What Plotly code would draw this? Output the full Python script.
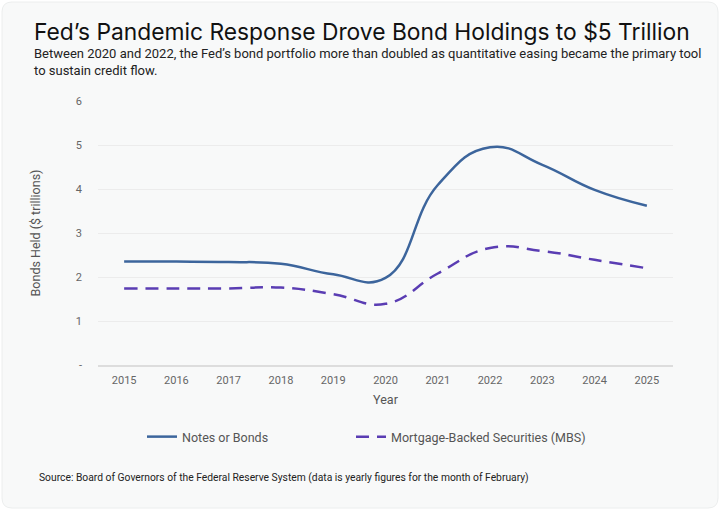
import plotly.graph_objects as go

years = [2015, 2016, 2017, 2018, 2019, 2020, 2021, 2022, 2023, 2024, 2025]
notes_bonds = [2.35, 2.35, 2.34, 2.30, 2.06, 1.98, 4.09, 4.95, 4.55, 3.98, 3.62]
mbs = [1.74, 1.74, 1.74, 1.76, 1.61, 1.39, 2.08, 2.66, 2.59, 2.39, 2.20]
y_tickvals = [0, 1, 2, 3, 4, 5, 6]
y_ticktext = ["-", "1", "2", "3", "4", "5", "6"]

W, H = 720, 510
L, R, T, B = 98, 47, 101, 145
PW, PH = W - L - R, H - T - B

def px(x):
    return (x - L) / PW

def py(y):
    return (H - B - y) / PH

TFONT = "Inter"
FONT = "Roboto"
legend_font = dict(family=FONT, size=12.5, color="#555555")

fig = go.Figure()
fig.add_trace(go.Scatter(
    x=years, y=notes_bonds, mode="lines", name="Notes or Bonds", legend="legend",
    line=dict(color="#3c659c", width=2.5, shape="spline", smoothing=1.3),
))
fig.add_trace(go.Scatter(
    x=years, y=mbs, mode="lines", name="Mortgage-Backed Securities (MBS)", legend="legend2",
    line=dict(color="#5a3db3", width=2.5, shape="spline", smoothing=1.3, dash="13px,8px"),
))

# rounded card background
x0, x1, y0, y1, r = 2, 718, 2, 508, 10
path = (f"M {px(x0+r)},{py(y0)} L {px(x1-r)},{py(y0)} "
        f"Q {px(x1)},{py(y0)} {px(x1)},{py(y0+r)} L {px(x1)},{py(y1-r)} "
        f"Q {px(x1)},{py(y1)} {px(x1-r)},{py(y1)} L {px(x0+r)},{py(y1)} "
        f"Q {px(x0)},{py(y1)} {px(x0)},{py(y1-r)} L {px(x0)},{py(y0+r)} "
        f"Q {px(x0)},{py(y0)} {px(x0+r)},{py(y0)} Z")
fig.add_shape(type="path", path=path, xref="paper", yref="paper",
              fillcolor="#f8f9f9", line=dict(color="#eceeee", width=1), layer="below")

fig.add_annotation(text="Fed’s Pandemic Response Drove Bond Holdings to $5 Trillion",
                   xref="paper", yref="paper", x=px(32), y=py(32), xanchor="left", yanchor="middle",
                   showarrow=False, font=dict(family=TFONT, size=22.8, color="#111111"))
fig.add_annotation(text="Between 2020 and 2022, the Fed’s bond portfolio more than doubled as quantitative easing became the primary tool<br>to sustain credit flow.",
                   xref="paper", yref="paper", x=px(32), y=py(62), xanchor="left", yanchor="middle",
                   align="left", showarrow=False,
                   font=dict(family=FONT, size=13, color="#222222"))
fig.add_annotation(text="Source: Board of Governors of the Federal Reserve System (data is yearly figures for the month of February)",
                   xref="paper", yref="paper", x=px(37), y=py(477), xanchor="left", yanchor="middle",
                   showarrow=False, font=dict(family=FONT, size=10.3, color="#222222"))

fig.update_layout(
    width=W, height=H,
    margin=dict(l=L, r=R, t=T, b=B),
    paper_bgcolor="white", plot_bgcolor="rgba(0,0,0,0)",
    font=dict(family=FONT, color="#666666"),
    showlegend=True,
    legend=dict(orientation="h", x=px(142), y=py(437), xanchor="left", yanchor="middle",
                font=legend_font, bgcolor="rgba(0,0,0,0)"),
    legend2=dict(orientation="h", x=px(351), y=py(437), xanchor="left", yanchor="middle",
                 font=legend_font, bgcolor="rgba(0,0,0,0)"),
    xaxis=dict(range=[2014.5, 2025.5], tickvals=years, ticktext=[str(y) for y in years],
               showgrid=False, zeroline=False, showline=True, linecolor="#dddddd", linewidth=1.5,
               ticks="", tickfont=dict(size=11, color="#666666"), ticklabelstandoff=4,
               title=dict(text="Year", font=dict(size=12.5, color="#555555"), standoff=9)),
    yaxis=dict(range=[0, 6], tickvals=y_tickvals, ticktext=y_ticktext,
               showgrid=True, gridcolor="#ececec", gridwidth=1, zeroline=False,
               ticks="", tickfont=dict(size=11, color="#666666"), ticklabelstandoff=15,
               title=dict(text="Bonds Held ($ trillions)", font=dict(size=12.5, color="#555555"), standoff=32)),
)

fig.write_html("out.html", config={"displayModeBar": False},
               post_script="document.body.style.margin='0';document.body.style.overflow='hidden';")
